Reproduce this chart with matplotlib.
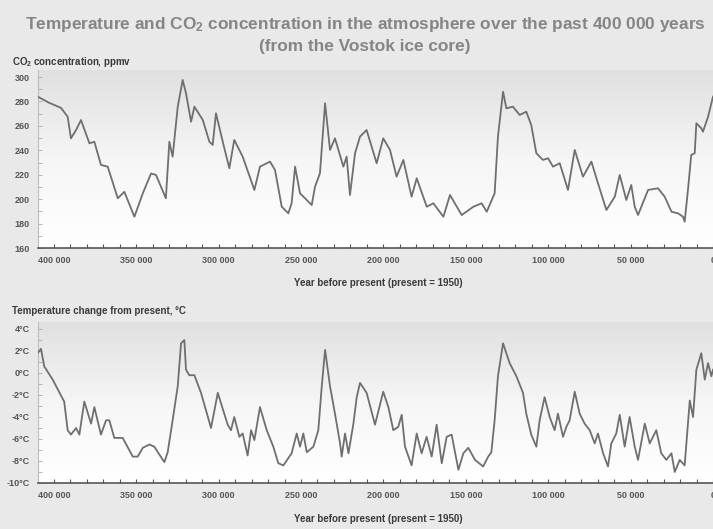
import numpy as np
import matplotlib
matplotlib.use("Agg")
import matplotlib.pyplot as plt

# ---------------- data (years before present, values) ----------------
co2_years = [409770, 403000, 395630, 391600, 389600, 386500, 383500, 378400, 375400,
             371400, 367300, 361200, 357200, 351100, 346000, 341000, 338000, 332000,
             329900, 327900, 324800, 321800, 319800, 316700, 314700, 309600, 305600,
             303600, 301600, 297500, 293500, 290500, 285400, 278300, 274900, 268800,
             265800, 261700, 257700, 255700, 253600, 250600, 243500, 241500, 238500,
             235400, 232400, 229400, 224300, 222300, 220300, 217200, 214200, 210200,
             204100, 200100, 196000, 192000, 187900, 182900, 179800, 173700, 169700,
             163600, 159600, 152500, 145400, 140400, 137300, 132500, 130500, 127400,
             125400, 121400, 117300, 113300, 110300, 107200, 103200, 100100, 97100,
             93000, 88000, 83900, 78900, 73800, 69800, 64700, 59600, 56600, 52600,
             49600, 47500, 45500, 39400, 33400, 29300, 25200, 21200, 18200, 17200,
             15200, 13200, 11100, 10100, 7100, 6100, 3000, 0]
co2_ppmv = [283.9, 279.0, 274.7, 267.5, 249.8, 256.6, 264.8, 245.7, 247.0,
            228.0, 226.6, 200.7, 206.0, 185.6, 204.8, 221.0, 219.8, 200.7,
            247.0, 234.8, 275.7, 297.6, 286.7, 263.4, 275.7, 264.8, 247.0,
            244.4, 270.3, 247.0, 225.3, 248.5, 234.8, 207.5, 226.6, 230.7,
            223.9, 193.8, 188.4, 196.6, 226.6, 204.8, 195.2, 210.2, 221.2,
            278.5, 240.3, 249.8, 226.6, 234.8, 203.4, 237.6, 251.2, 256.6,
            229.4, 249.8, 240.3, 218.4, 232.1, 202.0, 217.1, 193.8, 196.6,
            185.6, 203.4, 187.0, 193.8, 196.6, 189.7, 204.8, 251.2, 288.0,
            274.4, 275.7, 268.9, 271.6, 260.7, 237.6, 232.1, 233.5, 226.6,
            229.4, 207.5, 240.3, 218.4, 230.7, 213.0, 191.1, 202.0, 219.8, 199.3,
            211.6, 193.8, 187.0, 207.5, 208.9, 202.0, 189.7, 188.4, 185.6, 181.5,
            207.5, 236.2, 237.6, 262.1, 258.0, 255.2, 267.5, 283.9]

temp_years = [409800, 407800, 405800, 400700, 393700, 391600, 389600, 386500, 384500,
              381500, 377400, 375400, 371400, 368300, 366300, 363300, 358200, 352100,
              349100, 346000, 342000, 339000, 336900, 332900, 330900, 327900, 324800,
              322800, 320800, 319800, 317800, 314700, 310700, 304600, 300500, 294500,
              292500, 290500, 287400, 285400, 282400, 280300, 278300, 274900, 270800,
              266800, 263800, 260700, 255700, 252600, 250600, 248600, 246500, 242500,
              239500, 237400, 235400, 232400, 229400, 226300, 225300, 223300, 221200,
              218200, 216200, 214200, 210200, 205100, 200100, 197000, 194000, 191000,
              188900, 186900, 182900, 179800, 176800, 173800, 170700, 167700, 164600,
              161600, 158600, 154500, 151500, 148500, 144400, 139500, 136400, 134500,
              132500, 130500, 127400, 125400, 123400, 119300, 115300, 113300, 110300,
              107200, 105200, 102200, 99100, 96100, 94100, 91000, 89000, 87000, 83900,
              80900, 77900, 74800, 71800, 69800, 66700, 63700, 61700, 58700, 56600,
              53600, 50600, 47500, 45500, 41400, 38400, 34400, 31400, 28300, 25200,
              23200, 20200, 17200, 14100, 12100, 10100, 7100, 5000, 3000, 1000, 0]
temp_change = [1.8, 2.2, 0.6, -0.6, -2.6, -5.2, -5.6, -5.0, -5.6,
               -2.6, -4.6, -3.1, -5.6, -4.3, -4.3, -5.9, -5.9, -7.6,
               -7.6, -6.8, -6.5, -6.7, -7.2, -8.1, -7.2, -4.3, -1.2,
               2.7, 3.0, 0.3, -0.2, -0.2, -1.8, -5.0, -1.8, -4.7,
               -5.2, -4.0, -5.8, -5.5, -7.5, -5.2, -6.1, -3.1, -5.2,
               -6.7, -8.2, -8.4, -7.3, -5.5, -6.7, -5.5, -7.2, -6.7,
               -5.2, -1.2, 2.1, -1.2, -3.7, -6.4, -7.6, -5.5, -7.3,
               -4.6, -2.2, -0.9, -1.8, -4.7, -1.7, -3.1, -5.2, -4.9,
               -3.8, -6.7, -8.4, -5.5, -7.3, -5.8, -7.6, -4.7, -8.2,
               -5.8, -5.6, -8.8, -7.3, -6.8, -7.9, -8.5, -7.6, -7.2,
               -4.3, -0.3, 2.7, 1.8, 0.9, -0.3, -1.8, -3.7, -5.6,
               -6.7, -4.3, -2.2, -4.0, -5.2, -3.7, -5.8, -4.9, -4.3, -1.7,
               -3.7, -4.6, -5.2, -6.4, -5.5, -7.3, -8.5, -6.4, -5.5, -3.8,
               -6.7, -4.0, -6.7, -7.9, -4.6, -6.4, -5.2, -7.3, -7.9, -7.3,
               -9.0, -7.9, -8.4, -2.5, -4.0, 0.3, 1.8, -0.6, 0.9, -0.3, 0.3]

x_major = [400000, 350000, 300000, 250000, 200000, 150000, 100000, 50000, 0]
x_labels = ["400 000", "350 000", "300 000", "250 000", "200 000",
            "150 000", "100 000", "50 000", "0"]
co2_ticks = [160, 180, 200, 220, 240, 260, 280, 300]
temp_ticks = [-10, -8, -6, -4, -2, 0, 2, 4]
temp_labels = [f"{v}°C" for v in temp_ticks]

title1 = "Temperature and CO$_2$ concentration in the atmosphere over the past 400 000 years"
title2 = "(from the Vostok ice core)"
co2_label = "CO$_2$ concentration, ppmv"
temp_label = "Temperature change from present, °C"
xlabel = "Year before present (present = 1950)"

# ---------------- style ----------------
FONT = ["Liberation Sans", "DejaVu Sans"]
plt.rcParams["font.family"] = FONT
plt.rcParams["mathtext.fontset"] = "custom"
plt.rcParams["mathtext.rm"] = "Liberation Sans:bold"
plt.rcParams["mathtext.default"] = "rm"

W, H = 713, 529
fig = plt.figure(figsize=(W / 100, H / 100), dpi=100, facecolor="#e9e9e9")

LINE = "#6f6f6f"
TXT = "#3a3a3a"

def px_axes(left, top, right, bottom):
    return fig.add_axes([left / W, 1 - bottom / H, (right - left) / W, (bottom - top) / H])

def style_axes(ax):
    grad = np.linspace(0, 1, 256).reshape(-1, 1)
    cmap = matplotlib.colors.LinearSegmentedColormap.from_list(
        "g", ["#ffffff", "#f6f6f6", "#e0e0e0"])
    ax.imshow(grad, extent=[0, 1, 0, 1], transform=ax.transAxes, aspect="auto",
              cmap=cmap, origin="lower", zorder=0, interpolation="bilinear")
    ax.set_facecolor("none")
    for s in ["top", "right"]:
        ax.spines[s].set_visible(False)
    ax.spines["left"].set_color("#bdbdbd")
    ax.spines["left"].set_linewidth(0.8)
    ax.spines["bottom"].set_color("#555555")
    ax.spines["bottom"].set_linewidth(1.2)
    ax.set_xticks(x_major)
    ax.set_xticklabels(x_labels)
    ax.set_xticks(np.arange(0, 410001, 10000), minor=True)
    ax.tick_params(axis="x", which="both", direction="in", length=3, width=0.8,
                   color="#555555", labelsize=6.5, labelcolor="#555555", pad=6)
    ax.tick_params(axis="y", which="both", direction="in", length=3, width=0.6,
                   color="#aaaaaa", labelsize=6.5, labelcolor="#555555", pad=6)
    for lab in ax.get_xticklabels() + ax.get_yticklabels():
        lab.set_fontweight("bold")
    ax.set_xlim(409600, 0)

# top: CO2
ax1 = px_axes(38, 70, 713, 248)
style_axes(ax1)
ax1.plot(co2_years, co2_ppmv, color=LINE, lw=1.3, zorder=3)
ax1.set_yticks(co2_ticks)
ax1.set_yticks(np.arange(160, 306, 10), minor=True)
ax1.set_ylim(160, 160 + 178 / 1.2214)
for lab in ax1.get_yticklabels():
    lab.set_fontweight("bold")

# bottom: temperature
ax2 = px_axes(38, 322, 713, 483)
style_axes(ax2)
ax2.plot(temp_years, temp_change, color=LINE, lw=1.3, zorder=3)
ax2.set_yticks(temp_ticks)
ax2.set_yticklabels(temp_labels)
ax2.set_yticks(np.arange(-10, 4.6, 1), minor=True)
ax2.set_ylim(-10, 4 + 7 / 11)
for lab in ax2.get_yticklabels():
    lab.set_fontweight("bold")

# texts
fig.text(365 / W, 1 - 25 / H, title1, ha="center", va="center", fontsize=12.4,
         color="#858585", fontweight="bold")
fig.text(365 / W, 1 - 47 / H, title2, ha="center", va="center", fontsize=12.4,
         color="#858585", fontweight="bold")
fig.text(12 / W, 1 - 62 / H, co2_label, ha="left", va="center", fontsize=7,
         color=TXT, fontweight="bold")
fig.text(12 / W, 1 - 311 / H, temp_label, ha="left", va="center", fontsize=7,
         color=TXT, fontweight="bold")
fig.text(378 / W, 1 - 283 / H, xlabel, ha="center", va="center", fontsize=7,
         color=TXT, fontweight="bold")
fig.text(378 / W, 1 - 519 / H, xlabel, ha="center", va="center", fontsize=7,
         color=TXT, fontweight="bold")

fig.savefig("out.png", dpi=100, facecolor=fig.get_facecolor())
